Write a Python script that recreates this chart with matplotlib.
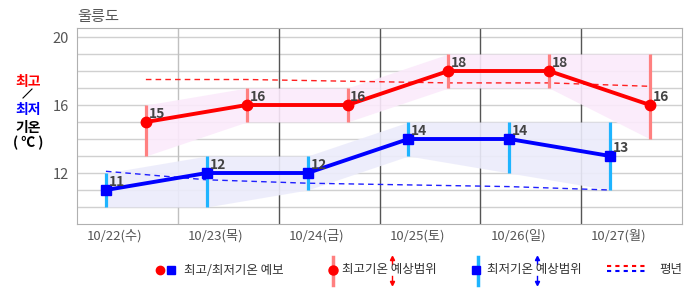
import matplotlib
matplotlib.use('Agg')
import matplotlib.pyplot as plt
from matplotlib.lines import Line2D
import numpy as np

plt.rcParams['font.family'] = ['Noto Sans CJK KR', 'DejaVu Sans']

# data
days = ['10/22(수)', '10/23(목)', '10/24(금)', '10/25(토)', '10/26(일)', '10/27(월)']
tmax = [15, 16, 16, 18, 18, 16]
tmax_lo = [13, 15, 15, 17, 17, 14]
tmax_hi = [16, 17, 17, 19, 19, 19]
tmin = [11, 12, 12, 14, 14, 13]
tmin_lo = [10, 10, 11, 13, 12, 11]
tmin_hi = [12, 13, 13, 15, 15, 15]
norm_max = [17.5, 17.5, 17.4, 17.3, 17.3, 17.1]
norm_min = [12.1, 11.6, 11.4, 11.3, 11.2, 11.0]

# x positions within each day (morning min, afternoon max)
idx = np.arange(len(days))
x_min = idx + 0.287
x_max = idx + 0.683
x_lab = idx + 0.376

fig = plt.figure(figsize=(6.86, 2.95), dpi=100)
ax = fig.add_axes([77/686, 71/295, 605/686, 196/295])
ax.set_xlim(0, 6)
ax.set_ylim(9, 20.53)

# grid
for y in range(10, 21):
    ax.axhline(y, color='#d0d0d0', lw=1, zorder=0)
for d in range(1, 6):
    ax.axvline(d, color='#c0c0c0' if d == 1 else '#555555', lw=1, zorder=0)
for s in ax.spines.values():
    s.set_color('#b0b0b0')

# bands
ax.fill_between(x_max, tmax_lo, tmax_hi, color='#fbeafb', alpha=0.9, lw=0, zorder=1)
ax.fill_between(x_min, tmin_lo, tmin_hi, color='#ececfb', alpha=0.9, lw=0, zorder=1)

# normals
ax.plot(x_max, norm_max, color='#ff2020', lw=1, dashes=(4, 3), zorder=2)
ax.plot(x_min, norm_min, color='#2020ff', lw=1, dashes=(4, 3), zorder=2)

# range bars
ax.vlines(x_max, tmax_lo, tmax_hi, color='#ff8080', lw=2.3, zorder=3)
ax.vlines(x_min, tmin_lo, tmin_hi, color='#1eb4ff', lw=2.3, zorder=3)

# forecast lines
ax.plot(x_max, tmax, color='#ff0000', lw=2.8, marker='o', ms=7.5, zorder=4)
ax.plot(x_min, tmin, color='#0000ff', lw=2.8, marker='s', ms=7, zorder=4)

for xs, ys in ((x_max, tmax), (x_min, tmin)):
    for x, y in zip(xs, ys):
        ax.annotate(str(y), (x, y), xytext=(2, 6), textcoords='offset points',
                    fontsize=10, color='#444444', fontweight='bold', va='center', zorder=5)

ax.set_yticks([12, 16, 20])
ax.set_xticks(x_lab)
ax.set_xticklabels(days)
ax.tick_params(length=0, labelsize=9.5, colors='#555555')
ax.tick_params(axis='y', pad=6, labelsize=10.5)
ax.tick_params(axis='x', pad=4)

fig.text(77/686, 1 - 16/295, '울릉도', fontsize=11, color='#555555', va='center')

# y label
fig.text(28/686, 1 - 82/295, '최고', color='red', fontsize=10, fontweight='bold', ha='center', va='center')
fig.add_artist(Line2D([23/686, 32/686], [1 - 98/295, 1 - 89/295], color='black', lw=0.8))
fig.text(28/686, 1 - 110/295, '최저', color='blue', fontsize=10, fontweight='bold', ha='center', va='center')
fig.text(28/686, 1 - 128/295, '기온', color='black', fontsize=10, fontweight='bold', ha='center', va='center')
fig.text(28/686, 1 - 143/295, '( ℃ )', color='black', fontsize=10, fontweight='bold', ha='center', va='center')

# legend
def fx(px):
    return px / 686

def fy(py):
    return 1 - py / 295

ly = 270
fig.add_artist(Line2D([fx(160)], [fy(ly)], marker='o', color='red', ms=6, ls=''))
fig.add_artist(Line2D([fx(171)], [fy(ly)], marker='s', color='blue', ms=5.5, ls=''))
fig.text(fx(184), fy(ly), '최고/최저기온 예보', fontsize=9, color='#333333', va='center')

fig.add_artist(Line2D([fx(333), fx(333)], [fy(257), fy(285)], color='#ff8080', lw=2.5))
fig.add_artist(Line2D([fx(333)], [fy(ly)], marker='o', color='red', ms=6.5, ls=''))
fig.text(fx(342), fy(ly), '최고기온 예상범위', fontsize=9, color='#333333', va='center')
fig.add_artist(Line2D([fx(392), fx(392)], [fy(258), fy(264)], color='red', lw=1))
fig.add_artist(Line2D([fx(392), fx(392)], [fy(276), fy(283)], color='red', lw=1))
fig.add_artist(Line2D([fx(392)], [fy(258)], marker='^', color='red', ms=3, ls=''))
fig.add_artist(Line2D([fx(392)], [fy(283)], marker='v', color='red', ms=3, ls=''))

fig.add_artist(Line2D([fx(478), fx(478)], [fy(257), fy(285)], color='#1eb4ff', lw=2.5))
fig.add_artist(Line2D([fx(476)], [fy(ly)], marker='s', color='blue', ms=5.5, ls=''))
fig.text(fx(487), fy(ly), '최저기온 예상범위', fontsize=9, color='#333333', va='center')
fig.add_artist(Line2D([fx(537), fx(537)], [fy(258), fy(264)], color='blue', lw=1))
fig.add_artist(Line2D([fx(537), fx(537)], [fy(276), fy(283)], color='blue', lw=1))
fig.add_artist(Line2D([fx(537)], [fy(258)], marker='^', color='blue', ms=3, ls=''))
fig.add_artist(Line2D([fx(537)], [fy(283)], marker='v', color='blue', ms=3, ls=''))

fig.add_artist(Line2D([fx(607), fx(647)], [fy(266), fy(266)], color='red', lw=1.5, dashes=(2, 2)))
fig.add_artist(Line2D([fx(607), fx(647)], [fy(271), fy(271)], color='blue', lw=1.5, dashes=(2, 2)))
fig.text(fx(659), fy(ly), '평년', fontsize=9, color='#333333', va='center')

fig.savefig('out.png', dpi=100)
